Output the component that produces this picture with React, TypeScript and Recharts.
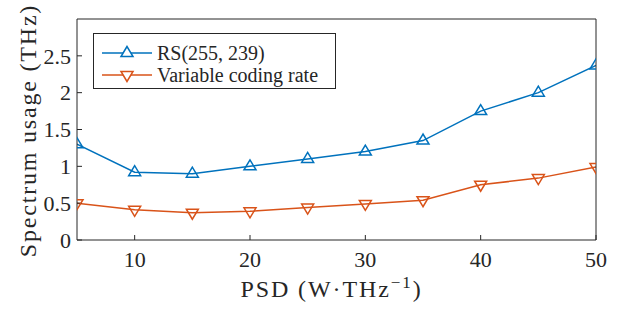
import { CartesianGrid, Label, Legend, Line, LineChart, XAxis, YAxis } from 'recharts';

const psd = [5, 10, 15, 20, 25, 30, 35, 40, 45, 50];
const rsUsage = [1.3, 0.92, 0.9, 1.0, 1.1, 1.2, 1.35, 1.75, 2.0, 2.37];
const variableUsage = [0.5, 0.41, 0.37, 0.39, 0.44, 0.49, 0.54, 0.75, 0.84, 0.99];
const xTicks = [10, 20, 30, 40, 50];
const yTicks = [0, 0.5, 1, 1.5, 2, 2.5];

const BLUE = '#0072BD';
const ORANGE = '#D95319';
const AXIS = '#262626';
const FONT = 'Liberation Serif, DejaVu Serif, serif';

const data = psd.map((x, i) => ({ x, rs: rsUsage[i], vcr: variableUsage[i] }));

function triPath(cx: number, cy: number, up: boolean) {
  if (up) return `M${cx},${cy - 6.5} L${cx - 6},${cy + 3.5} L${cx + 6},${cy + 3.5} Z`;
  return `M${cx},${cy + 6.5} L${cx - 6},${cy - 3.5} L${cx + 6},${cy - 3.5} Z`;
}

const marker = (up: boolean, color: string) => (props: any) => {
  const { cx, cy, index } = props;
  if (cx == null || cy == null) return <g key={index} />;
  return <path key={index} d={triPath(cx, cy, up)} fill="none" stroke={color} strokeWidth={1.5} />;
};

function LegendBox() {
  const rows = [
    { name: 'RS(255, 239)', color: BLUE, up: true },
    { name: 'Variable coding rate', color: ORANGE, up: false },
  ];
  return (
    <div
      style={{
        width: 243,
        height: 56,
        border: `1px solid ${AXIS}`,
        background: '#fff',
        boxSizing: 'border-box',
        fontFamily: FONT,
        fontSize: 20,
        color: AXIS,
        position: 'relative',
      }}
    >
      {rows.map((r, i) => (
        <div key={r.name} style={{ position: 'absolute', left: 8, top: 7 + i * 22, height: 24, display: 'flex', alignItems: 'center' }}>
          <svg width={50} height={24} style={{ display: 'block' }}>
            <line x1={0} y1={12} x2={50} y2={12} stroke={r.color} strokeWidth={1.5} />
            <path d={triPath(25, 12, r.up)} fill="#fff" stroke={r.color} strokeWidth={1.5} />
          </svg>
          <span style={{ marginLeft: 5, whiteSpace: 'nowrap', lineHeight: '24px' }}>{r.name}</span>
        </div>
      ))}
    </div>
  );
}

function XTitle(props: any) {
  const vb = props.viewBox;
  const cx = vb.x + vb.width / 2 - 5;
  return (
    <text x={cx} y={297} textAnchor="middle" fontFamily={FONT} fontSize={24} fill={AXIS} letterSpacing={1.9}>
      PSD (W·THz
      <tspan dy={-9} fontSize={17}>−1</tspan>
      <tspan dy={9}>)</tspan>
    </text>
  );
}

function YTitle(props: any) {
  const vb = props.viewBox;
  const cy = vb.y + vb.height / 2 + 1;
  return (
    <text
      x={36}
      y={cy}
      transform={`rotate(-90, 36, ${cy})`}
      textAnchor="middle"
      fontFamily={FONT}
      fontSize={24}
      fill={AXIS}
      letterSpacing={1.8}
    >
      Spectrum usage (THz)
    </text>
  );
}

export default function App() {
  const tickStyle = { fontSize: 22, fill: AXIS, fontFamily: FONT };
  return (
    <div style={{ position: 'absolute', left: 0, top: 0, width: 628, height: 312, background: '#fff' }}>
      <LineChart width={628} height={312} data={data} margin={{ top: 18, right: 31, bottom: 0, left: 0 }}>
        <CartesianGrid stroke="none" />
        <XAxis
          xAxisId="b"
          dataKey="x"
          type="number"
          domain={[5, 50]}
          ticks={xTicks}
          allowDataOverflow
          height={72}
          tick={tickStyle}
          tickSize={-5}
          tickMargin={16}
          stroke={AXIS}
          axisLine={{ stroke: AXIS, strokeWidth: 1 }}
          tickLine={{ stroke: AXIS }}
        >
          <Label content={XTitle} />
        </XAxis>
        <XAxis
          xAxisId="t"
          orientation="top"
          dataKey="x"
          type="number"
          domain={[5, 50]}
          ticks={xTicks}
          allowDataOverflow
          height={1}
          tick={false}
          tickSize={-5}
          stroke={AXIS}
          axisLine={{ stroke: AXIS }}
          tickLine={{ stroke: AXIS }}
        />
        <YAxis
          yAxisId="l"
          type="number"
          domain={[0, 3]}
          ticks={yTicks}
          allowDataOverflow
          width={77}
          tick={tickStyle}
          tickSize={-5}
          tickMargin={11}
          stroke={AXIS}
          axisLine={{ stroke: AXIS }}
          tickLine={{ stroke: AXIS }}
        >
          <Label content={YTitle} />
        </YAxis>
        <YAxis
          yAxisId="r"
          orientation="right"
          type="number"
          domain={[0, 3]}
          ticks={yTicks}
          allowDataOverflow
          width={1}
          tick={false}
          tickSize={-5}
          stroke={AXIS}
          axisLine={{ stroke: AXIS }}
          tickLine={{ stroke: AXIS }}
        />
        <Legend
          layout="vertical"
          align="center"
          verticalAlign="middle"
          content={() => <LegendBox />}
          wrapperStyle={{ position: 'absolute', left: 93, top: 33, width: 243, height: 56 }}
        />
        <Line
          xAxisId="b"
          yAxisId="l"
          dataKey="rs"
          name="RS(255, 239)"
          stroke={BLUE}
          strokeWidth={1.5}
          dot={marker(true, BLUE)}
          activeDot={false}
          isAnimationActive={false}
        />
        <Line
          xAxisId="b"
          yAxisId="l"
          dataKey="vcr"
          name="Variable coding rate"
          stroke={ORANGE}
          strokeWidth={1.5}
          dot={marker(false, ORANGE)}
          activeDot={false}
          isAnimationActive={false}
        />
      </LineChart>
    </div>
  );
}
